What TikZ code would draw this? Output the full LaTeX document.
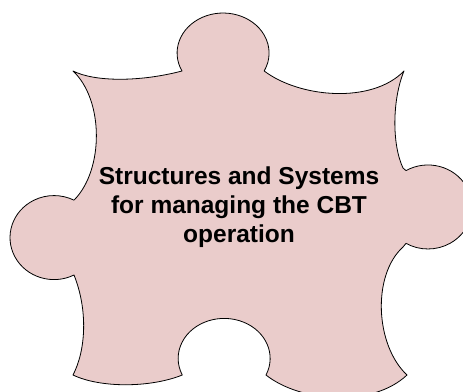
\documentclass[tikz,border=0pt]{standalone}
\usepackage{fontspec}
\setmainfont{Liberation Sans}
\usepackage{xcolor}
\usepackage{tikz}
\usetikzlibrary{positioning}

\definecolor{piecepink}{RGB}{234,204,203}

\begin{document}
\begin{tikzpicture}[
  x=1pt, y=1pt, yscale=-1,
  piecebox/.style={draw=black, line width=0.8pt, fill=piecepink, line join=round},
  captionbox/.style={align=center, inner sep=0pt, font=\fontsize{24.5}{29}\selectfont\bfseries}
]
\useasboundingbox (0,0) rectangle (463,391);
\clip (0,0) rectangle (463,391);

% puzzle piece, clockwise from the top left corner
\path[piecebox] (73,71)
  .. controls (95,82) and (140,82) .. (182,71)
  arc[start angle=153.3, end angle=386.7, x radius=46pt, y radius=40pt]
  .. controls (300,98) and (372,104) .. (404,71)
  .. controls (392,100) and (392,145) .. (403,168)
  -- (406,170.6)
  arc[start angle=240, end angle=480, x radius=44pt, y radius=42pt]
  -- (403,247)
  .. controls (372,275) and (375,345) .. (407,375)
  .. controls (372,408) and (300,402) .. (266,375)
  arc[start angle=24.5, end angle=-204.5, x radius=46pt, y radius=40pt]
  .. controls (150,388) and (100,388) .. (73,375)
  .. controls (86,350) and (88,310) .. (74,275)
  arc[start angle=63, end angle=297, x radius=44pt, y radius=42pt]
  .. controls (104,170) and (104,100) .. (73,71)
  -- cycle;

\node[captionbox] (label) at (239,207.5) {Structures and Systems\\for managing the CBT\\operation};
\end{tikzpicture}
\end{document}
